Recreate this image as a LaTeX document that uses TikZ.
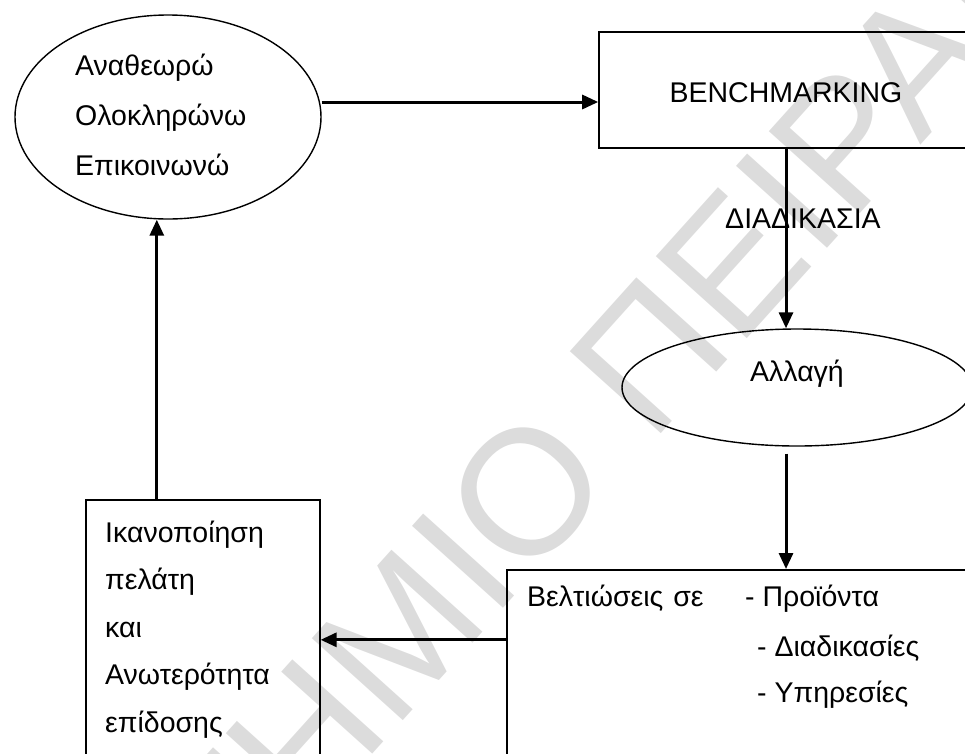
\documentclass[tikz,border=0pt]{standalone}
\usepackage{fontspec}
\setmainfont{Liberation Sans}
\usetikzlibrary{arrows.meta, positioning, shapes.geometric}
\definecolor{wmark}{HTML}{DCDCDC}

\begin{document}
\begin{tikzpicture}[x=1pt, y=-1pt,
  >={Triangle[length=16pt, width=14pt]},
  txt/.style={inner sep=0pt, font=\fontsize{28.5}{50}\selectfont},
  box/.style={draw, line width=1.6pt, inner sep=0pt},
  oval/.style={draw, ellipse, line width=1.4pt, inner sep=0pt},
  arr/.style={->, line width=3pt}]

% Canvas
\useasboundingbox (0,0) rectangle (965,753);

% Watermark
\begin{scope}
\clip (0,0) rectangle (965,753);
\node[text=wmark, font=\fontsize{178}{178}\selectfont, rotate=48, anchor=base west, inner sep=0pt] (wmtxt) at (-289,1489) {ΠΑΝΕΠΙΣΤΗΜΙΟ ΠΕΙΡΑΙΩΣ};
\end{scope}

% Top left ellipse
\node[oval, minimum width=306pt, minimum height=204pt] (review) at (168,117) {};
\node[txt, align=left, text width=240pt, anchor=base west] (reviewtxt) at (75,75) {Αναθεωρώ\\Ολοκληρώνω\\Επικοινωνώ};

% Benchmarking box
\node[box, minimum width=374pt, minimum height=116pt] (bench) at (786,90) {};
\node[txt, anchor=base] (benchtxt) at (786,102) {BENCHMARKING};
\node[txt, anchor=base west] (proc) at (725,228) {ΔΙΑΔΙΚΑΣΙΑ};

% Change ellipse
\node[oval, minimum width=350pt, minimum height=117pt] (change) at (797,387.5) {};
\node[txt, anchor=base] (changetxt) at (797,381) {Αλλαγή};

% Improvements box
\node[box, minimum width=484pt, minimum height=240pt, anchor=north west] (impr) at (506,569) {};
\node[txt, anchor=base west] (imprtxt) at (527,606) {Βελτιώσεις\hspace{2pt} σε};
\node[txt, anchor=base west] (prod) at (745,606) {- Προϊόντα};
\node[txt, anchor=base west] (procs) at (757,656) {- Διαδικασίες};
\node[txt, anchor=base west] (serv) at (757,702) {- Υπηρεσίες};

% Satisfaction box
\node[box, minimum width=234pt, minimum height=280pt, anchor=north west] (sat) at (85,499) {};
\node[txt, align=left, text width=200pt, anchor=base west, font=\fontsize{28.5}{47.5}\selectfont] (sattxt) at (105,542) {Ικανοποίηση\\πελάτη\\και\\Ανωτερότητα\\επίδοσης};

% Arrows
\coordinate (chgout) at ([yshift=-7pt]change.south);
\coordinate (satup) at ([xshift=-46pt]sat.north);
\draw[arr] ([yshift=15pt]review.east) -- ([yshift=15pt]review.east -| bench.west);
\draw[arr] (bench.south) -- (bench.south |- change.north);
\draw[arr] (chgout -| bench.south) -- (bench.south |- impr.north);
\draw[arr] (impr.west |- sat.east) -- (sat.east);
\draw[arr] (satup) -- (satup |- review.south);

\end{tikzpicture}
\end{document}
